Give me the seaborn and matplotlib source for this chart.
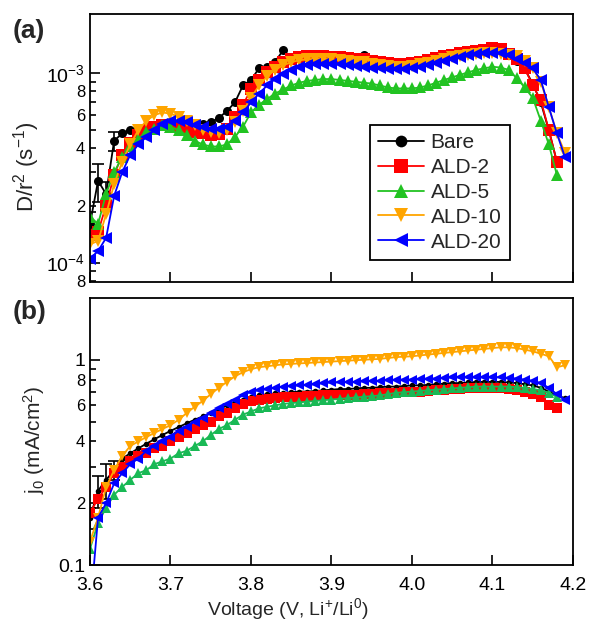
import numpy as np
import pandas as pd
import matplotlib
matplotlib.use("Agg")
import matplotlib.pyplot as plt
import seaborn as sns

# ---------------- data ----------------
voltage = [3.60, 3.61, 3.62, 3.63, 3.64, 3.65, 3.66, 3.67, 3.68, 3.69,
           3.70, 3.71, 3.72, 3.73, 3.74, 3.75, 3.76, 3.77, 3.78, 3.79,
           3.80, 3.81, 3.82, 3.83, 3.84, 3.85, 3.86, 3.87, 3.88, 3.89,
           3.90, 3.91, 3.92, 3.93, 3.94, 3.95, 3.96, 3.97, 3.98, 3.99,
           4.00, 4.01, 4.02, 4.03, 4.04, 4.05, 4.06, 4.07, 4.08, 4.09,
           4.10, 4.11, 4.12, 4.13, 4.14, 4.15, 4.16, 4.17, 4.18, 4.19]

samples = ["Bare", "ALD-2", "ALD-5", "ALD-10", "ALD-20"]
nan = np.nan

# (a) D/r^2 in units of 1e-4 s^-1
d_bare = [1.6, 2.7, 2.3, 4.4, 4.8, 5.0, 5.1, 5.2, 5.3, 5.4,
          5.5, 5.4, 5.3, 5.3, 5.4, 5.5, 5.8, 6.3, 7.0, 8.6,
          9.2, 10.6, 10.8, 11.5, 13.2, 12.0, 12.3, 12.4, 12.5, 12.4,
          12.3, 12.2, 12.1, 12.0, 12.4, 11.7, 11.5, 11.4, 11.3, 11.3,
          11.4, 11.6, 11.8, 12.0, 12.2, 12.4, 12.6, 12.8, 13.0, 13.1,
          13.2, 13.0, 12.4, 11.6, 10.5, 8.8, 7.0, 5.0, 3.4, nan]
d_ald2 = [1.4, 1.45, 2.0, 2.9, 3.7, 4.3, 4.7, 5.0, 5.2, 5.3,
          5.3, 5.2, 5.0, 4.9, 4.8, 4.7, 4.75, 5.1, 5.9, 6.8,
          8.2, 9.2, 10.1, 10.8, 11.4, 11.8, 12.1, 12.3, 12.3, 12.3,
          12.2, 12.1, 12.0, 11.9, 11.8, 11.6, 11.4, 11.3, 11.2, 11.2,
          11.3, 11.5, 11.7, 12.0, 12.3, 12.5, 12.7, 12.9, 13.1, 13.3,
          13.5, 13.4, 12.6, 11.8, 10.6, 8.6, 7.2, 5.0, 3.4, nan]
d_ald5 = [1.75, 1.6, 2.3, 3.0, 3.6, 4.1, 4.5, 4.9, 5.1, 5.3,
          5.2, 5.0, 4.7, 4.4, 4.2, 4.1, 4.1, 4.2, 4.6, 5.2,
          6.2, 6.8, 7.3, 7.8, 8.2, 8.6, 8.9, 9.1, 9.2, 9.3,
          9.3, 9.2, 9.1, 9.0, 8.9, 8.8, 8.6, 8.4, 8.3, 8.3,
          8.3, 8.4, 8.6, 8.9, 9.2, 9.5, 9.8, 10.1, 10.4, 10.6,
          10.8, 10.7, 10.4, 9.4, 8.4, 7.4, 5.6, 4.2, 2.9, nan]
d_ald10 = [1.25, 1.3, 1.8, 2.6, 3.4, 4.2, 5.0, 5.6, 6.0, 6.2,
           6.1, 5.9, 5.6, 5.3, 5.0, 4.9, 4.85, 5.0, 5.5, 6.3,
           7.4, 8.6, 9.6, 10.4, 11.0, 11.4, 11.7, 11.8, 11.9, 11.9,
           11.8, 11.7, 11.6, 11.5, 11.4, 11.2, 11.0, 10.9, 10.8, 10.8,
           10.9, 11.1, 11.3, 11.6, 11.9, 12.1, 12.3, 12.5, 12.6, 12.7,
           12.7, 12.6, 12.5, 12.3, 11.6, 10.6, 9.0, 6.6, 4.8, 3.8]
d_ald20 = [1.05, 1.15, 1.35, 2.25, 3.0, 3.7, 4.2, 4.6, 5.0, 5.4,
           5.6, 5.6, 5.5, 5.3, 5.2, 5.1, 5.1, 5.2, 5.6, 6.2,
           7.0, 7.8, 8.6, 9.3, 9.9, 10.4, 10.8, 11.0, 11.1, 11.2,
           11.2, 11.1, 11.0, 10.9, 10.8, 10.7, 10.6, 10.5, 10.5, 10.5,
           10.6, 10.8, 11.0, 11.3, 11.6, 11.9, 12.2, 12.4, 12.6, 12.7,
           12.8, 12.7, 12.4, 11.9, 11.3, 10.6, 9.2, 6.6, 4.8, 3.6]

# (b) j0 in mA/cm^2
j_bare = [0.17, 0.23, 0.26, 0.29, 0.33, 0.35, 0.37, 0.39, 0.41, 0.43,
          0.45, 0.47, 0.49, 0.51, 0.53, 0.55, 0.57, 0.60, 0.62, 0.64,
          0.66, 0.67, 0.68, 0.685, 0.69, 0.695, 0.70, 0.70, 0.705, 0.71,
          0.715, 0.72, 0.72, 0.725, 0.73, 0.73, 0.735, 0.74, 0.74, 0.745,
          0.75, 0.75, 0.755, 0.76, 0.765, 0.77, 0.77, 0.775, 0.78, 0.78,
          0.78, 0.78, 0.775, 0.77, 0.76, 0.75, 0.73, 0.70, 0.67, 0.65]
j_ald2 = [0.18, 0.21, 0.24, 0.28, 0.30, 0.32, 0.34, 0.35, 0.37, 0.38,
          0.40, 0.42, 0.44, 0.46, 0.48, 0.50, 0.53, 0.55, 0.58, 0.61,
          0.63, 0.64, 0.645, 0.65, 0.655, 0.66, 0.66, 0.665, 0.665, 0.67,
          0.67, 0.67, 0.675, 0.675, 0.68, 0.68, 0.685, 0.69, 0.69, 0.695,
          0.70, 0.70, 0.705, 0.71, 0.715, 0.72, 0.72, 0.725, 0.73, 0.73,
          0.73, 0.725, 0.72, 0.71, 0.70, 0.68, 0.66, 0.60, 0.58, nan]
j_ald5 = [0.12, 0.16, 0.19, 0.22, 0.24, 0.26, 0.28, 0.29, 0.31, 0.32,
          0.33, 0.35, 0.36, 0.38, 0.40, 0.43, 0.46, 0.48, 0.51, 0.54,
          0.56, 0.58, 0.59, 0.60, 0.61, 0.615, 0.62, 0.625, 0.63, 0.635,
          0.64, 0.645, 0.65, 0.655, 0.66, 0.665, 0.67, 0.68, 0.69, 0.695,
          0.70, 0.705, 0.71, 0.715, 0.72, 0.725, 0.73, 0.735, 0.74, 0.74,
          0.74, 0.74, 0.74, 0.735, 0.73, 0.72, 0.71, 0.69, 0.66, nan]
j_ald10 = [0.13, 0.17, 0.24, 0.29, 0.34, 0.38, 0.40, 0.42, 0.44, 0.46,
           0.48, 0.51, 0.55, 0.59, 0.63, 0.68, 0.73, 0.78, 0.83, 0.87,
           0.90, 0.92, 0.93, 0.94, 0.95, 0.955, 0.96, 0.965, 0.97, 0.975,
           0.98, 0.985, 0.99, 0.995, 1.00, 1.005, 1.01, 1.02, 1.03, 1.035,
           1.04, 1.05, 1.06, 1.07, 1.08, 1.09, 1.10, 1.11, 1.12, 1.13,
           1.14, 1.15, 1.15, 1.14, 1.12, 1.10, 1.07, 1.04, 0.92, 0.94]
j_ald20 = [0.06, 0.17, 0.20, 0.25, 0.28, 0.31, 0.33, 0.36, 0.38, 0.40,
           0.42, 0.45, 0.47, 0.50, 0.52, 0.55, 0.58, 0.61, 0.64, 0.67,
           0.70, 0.71, 0.72, 0.73, 0.74, 0.745, 0.75, 0.755, 0.76, 0.77,
           0.775, 0.775, 0.78, 0.78, 0.785, 0.79, 0.79, 0.795, 0.80, 0.80,
           0.80, 0.805, 0.81, 0.81, 0.815, 0.82, 0.82, 0.82, 0.82, 0.82,
           0.82, 0.82, 0.815, 0.81, 0.80, 0.79, 0.77, 0.73, 0.68, 0.64]

# error bars of the bare sample at low voltage
err_voltage = [3.60, 3.61, 3.62, 3.63]
err_top = [0.25, 0.6, 0.35, 0.5]     # 1e-4 s^-1
err_bottom = [0.02, 0.04, 0.05, 0.03]  # mA/cm^2

top_colors = ["#000000", "#ff0000", "#22c322", "#ffa500", "#0000ff"]
bottom_colors = ["#000000", "#ff0000", "#19b955", "#ffa500", "#0000ff"]
marker_map = {"Bare": "o", "ALD-2": "s", "ALD-5": "^", "ALD-10": "v", "ALD-20": "<"}


def long_frame(series, scale):
    rows = []
    for name, vals in zip(samples, series):
        for v, y in zip(voltage, vals):
            if not np.isnan(y):
                rows.append({"V": v, "val": y * scale, "sample": name})
    return pd.DataFrame(rows)


top_df = long_frame([d_bare, d_ald2, d_ald5, d_ald10, d_ald20], 1e-4)
bot_df = long_frame([j_bare, j_ald2, j_ald5, j_ald10, j_ald20], 1.0)

# ---------------- style ----------------
sns.set_theme(style="ticks")
plt.rcParams["font.family"] = ["Liberation Sans", "DejaVu Sans"]
plt.rcParams["mathtext.fontset"] = "custom"
plt.rcParams["mathtext.rm"] = "Liberation Sans"
plt.rcParams["mathtext.it"] = "Liberation Sans:italic"
plt.rcParams["mathtext.bf"] = "Liberation Sans:bold"
plt.rcParams["mathtext.default"] = "regular"

fig = plt.figure(figsize=(5.9, 6.23), dpi=100)
ax1 = fig.add_axes([90 / 590, 1 - 282 / 623, 483 / 590, 268 / 623])
ax2 = fig.add_axes([90 / 590, 1 - 565 / 623, 483 / 590, 267 / 623])

sns.lineplot(data=top_df, x="V", y="val", hue="sample", style="sample",
             hue_order=samples, style_order=samples, palette=top_colors,
             markers=marker_map, dashes=False, estimator=None, sort=False,
             linewidth=1.3, markersize=8, markeredgewidth=0, ax=ax1)
sns.lineplot(data=bot_df, x="V", y="val", hue="sample", style="sample",
             hue_order=samples, style_order=samples, palette=bottom_colors,
             markers=marker_map, dashes=False, estimator=None, sort=False,
             linewidth=1.3, markersize=7.5, markeredgewidth=0, ax=ax2, legend=False)

# smaller circles for the bare sample
for ax, ms in ((ax1, 6.5), (ax2, 4)):
    for ln in ax.lines:
        if ln.get_marker() == "o":
            ln.set_markersize(ms)

ax1.errorbar(err_voltage, [d_bare[i] * 1e-4 for i in range(4)],
             yerr=[e * 1e-4 for e in err_top], fmt="none", ecolor="black",
             elinewidth=1.2, capsize=4, capthick=1.2, zorder=1)
ax2.errorbar(err_voltage, j_bare[:4], yerr=err_bottom, fmt="none",
             ecolor="black", elinewidth=1.2, capsize=4, capthick=1.2, zorder=1)

for ax in (ax1, ax2):
    ax.set_yscale("log")
    ax.set_xlim(3.6, 4.2)
    for s in ax.spines.values():
        s.set_visible(True)
        s.set_linewidth(1.3)
        s.set_color("black")
    ax.tick_params(which="both", direction="in", top=False, right=False,
                   colors="black", labelcolor="black")
    ax.tick_params(which="major", length=7, width=1.2, labelsize=14)
    ax.tick_params(which="minor", length=4.5, width=1.2, labelsize=12)
    ax.tick_params(axis="x", which="major", pad=9)
    ax.set_xticks([3.6, 3.7, 3.8, 3.9, 4.0, 4.1, 4.2])
    ax.set_xlabel("")
    ax.set_ylabel("")

ax1.set_ylim(7.9e-5, 2.05e-3)
ax1.set_xticklabels([])
ax1.set_yticks([1e-4, 1e-3], ["10$^{-4}$", "10$^{-3}$"])
ax1.set_yticks([8e-5, 9e-5, 2e-4, 3e-4, 4e-4, 5e-4, 6e-4, 7e-4, 8e-4, 9e-4],
               ["8", "", "2", "", "4", "", "6", "", "8", ""], minor=True)

ax2.set_ylim(0.1, 2.0)
ax2.set_xticklabels(["3.6", "3.7", "3.8", "3.9", "4.0", "4.1", "4.2"])
ax2.set_yticks([0.1, 1.0], ["0.1", "1"])
ax2.set_yticks([0.2, 0.3, 0.4, 0.5, 0.6, 0.7, 0.8, 0.9],
               ["2", "", "4", "", "6", "", "8", ""], minor=True)

ax1.set_ylabel("D/r$^{2}$ (s$^{-1}$)", fontsize=16)
ax1.yaxis.set_label_coords(-0.10, 0.43)
ax2.set_ylabel("j$_{0}$ (mA/cm$^{2}$)", fontsize=15)
ax2.yaxis.set_label_coords(-0.09, 0.47)
ax2.set_xlabel("Voltage (V, Li$^{+}$/Li$^{0}$)", fontsize=14)
ax2.xaxis.set_label_coords(0.41, -0.115)

handles, labels = ax1.get_legend_handles_labels()
leg = ax1.legend(handles, labels, loc="upper left", bbox_to_anchor=(0.58, 0.586),
                 borderaxespad=0, frameon=True, fancybox=False, framealpha=1,
                 edgecolor="black", fontsize=15, handlelength=2.2,
                 labelspacing=0.28, handletextpad=0.3, borderpad=0.4,
                 markerscale=1.3)
leg.get_frame().set_linewidth(1.3)

fig.text(0.022, 0.950, "(a)", fontsize=19, fontweight="bold", va="center", ha="left")
fig.text(0.022, 0.499, "(b)", fontsize=19, fontweight="bold", va="center", ha="left")

fig.savefig("out.png", dpi=100)
